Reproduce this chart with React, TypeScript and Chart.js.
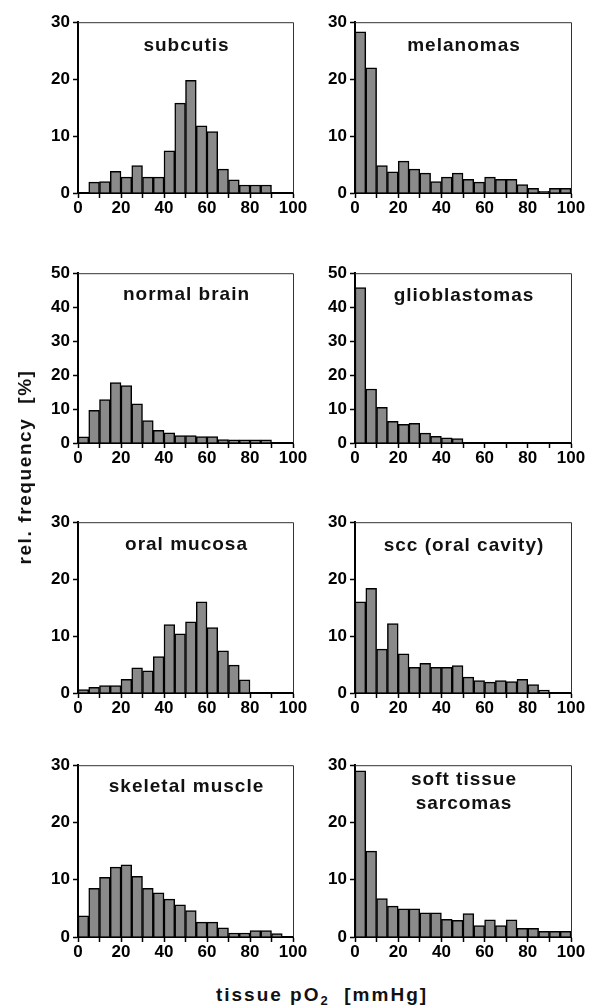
import React, { useEffect, useRef } from 'react';
import { Chart, registerables } from 'chart.js';

Chart.register(...registerables);

// ---------- data ----------
const BIN_CENTERS = [2.5, 7.5, 12.5, 17.5, 22.5, 27.5, 32.5, 37.5, 42.5, 47.5, 52.5, 57.5, 62.5, 67.5, 72.5, 77.5, 82.5, 87.5, 92.5, 97.5];
const X_TICK_LABELS = [0, 20, 40, 60, 80, 100];

const SUBCUTIS = [0, 1.9, 2.0, 3.8, 2.8, 4.8, 2.8, 2.8, 7.4, 15.8, 19.8, 11.8, 10.8, 4.2, 2.3, 1.4, 1.4, 1.4, 0, 0];
const MELANOMAS = [28.3, 22.0, 4.8, 3.7, 5.6, 4.2, 3.5, 2.0, 2.8, 3.5, 2.4, 1.9, 2.8, 2.4, 2.4, 1.5, 0.8, 0.3, 0.8, 0.8];
const NORMAL_BRAIN = [1.8, 9.6, 12.8, 17.8, 16.9, 11.5, 6.6, 3.7, 3.0, 2.2, 2.2, 1.9, 1.9, 1.0, 0.9, 0.9, 0.9, 0.9, 0, 0];
const GLIOBLASTOMAS = [45.8, 15.9, 10.5, 6.4, 5.5, 5.8, 2.9, 2.0, 1.5, 1.3, 0, 0, 0, 0, 0, 0, 0, 0, 0, 0];
const ORAL_MUCOSA = [0.6, 1.0, 1.3, 1.3, 2.4, 4.4, 3.9, 6.4, 12.0, 10.4, 12.5, 16.0, 11.5, 7.4, 4.9, 2.3, 0, 0, 0, 0];
const SCC_ORAL = [16.0, 18.4, 7.7, 12.2, 6.9, 4.5, 5.2, 4.5, 4.5, 4.8, 2.8, 2.2, 1.9, 2.2, 2.0, 2.4, 1.5, 0.5, 0, 0];
const SKELETAL_MUSCLE = [3.7, 8.5, 10.4, 12.2, 12.6, 10.6, 8.5, 7.7, 6.6, 5.6, 4.6, 2.6, 2.6, 1.6, 0.7, 0.7, 1.1, 1.1, 0.6, 0];
const SOFT_TISSUE = [29.0, 15.0, 6.7, 5.4, 4.9, 4.9, 4.2, 4.2, 3.1, 2.9, 4.1, 2.0, 3.0, 2.0, 3.0, 1.5, 1.5, 1.0, 1.0, 1.0];

const PANEL_TITLES = [
  ['subcutis'], ['melanomas'],
  ['normal brain'], ['glioblastomas'],
  ['oral mucosa'], ['scc (oral cavity)'],
  ['skeletal muscle'], ['soft tissue', 'sarcomas'],
];
const PANEL_VALUES = [SUBCUTIS, MELANOMAS, NORMAL_BRAIN, GLIOBLASTOMAS, ORAL_MUCOSA, SCC_ORAL, SKELETAL_MUSCLE, SOFT_TISSUE];
const PANEL_YMAX = [30, 30, 50, 50, 30, 30, 30, 30];

const Y_TITLE = 'rel. frequency  [%]';
const X_TITLE_MAIN = 'tissue pO';
const X_TITLE_SUB = '2';
const X_TITLE_UNIT = '[mmHg]';

// ---------- layout / style ----------
const FONT = '"Liberation Sans", Arial, Helvetica, sans-serif';
const BAR_FILL = '#8a8a8a';
const COLS = [{ x: 78, w: 215 }, { x: 355, w: 216 }];
const ROWS = [{ y: 21, h: 172 }, { y: 272, h: 171 }, { y: 521, h: 172 }, { y: 764, h: 173 }];
const TITLE_OFFSETS = [24, 24, 22, 23, 23, 24, 22, 15];
const AXIS_W = 50;
const AXIS_H = 30;
const PAD_T = 12;
const PAD_R = 18;

const frameAndTitle = {
  id: 'frameAndTitle',
  afterDatasetsDraw(chart: any, _args: any, opts: any) {
    const { ctx, chartArea: a } = chart;
    ctx.save();
    ctx.strokeStyle = '#333';
    ctx.lineWidth = 1;
    ctx.beginPath();
    ctx.moveTo(a.left, a.top + 0.5);
    ctx.lineTo(a.right + 0.5, a.top + 0.5);
    ctx.lineTo(a.right + 0.5, a.bottom);
    ctx.stroke();
    ctx.fillStyle = '#111';
    ctx.font = `bold 19px ${FONT}`;
    try { (ctx as any).letterSpacing = '1px'; } catch (e) {}
    ctx.textAlign = 'center';
    ctx.textBaseline = 'middle';
    (opts.lines || []).forEach((line: string, i: number) => {
      ctx.fillText(line, (a.left + a.right) / 2 + 1, a.top + opts.offset + i * 24);
    });
    ctx.restore();
  },
};

function Panel({ idx }: { idx: number }) {
  const ref = useRef<HTMLCanvasElement | null>(null);
  const col = COLS[idx % 2];
  const row = ROWS[Math.floor(idx / 2)];
  const left = col.x - AXIS_W;
  const top = row.y - PAD_T;
  const width = col.w + AXIS_W + PAD_R;
  const height = row.h + PAD_T + AXIS_H;

  useEffect(() => {
    const values = PANEL_VALUES[idx];
    const tickFont = { family: FONT, size: 17, weight: 'bold' as const };
    const chart = new Chart(ref.current as HTMLCanvasElement, {
      type: 'bar',
      data: {
        datasets: [
          {
            data: BIN_CENTERS.map((x, i) => ({ x, y: values[i] === 0 ? null : values[i] })) as any,
            backgroundColor: BAR_FILL,
            borderColor: '#000',
            borderWidth: 1.5,
            barPercentage: 1,
            categoryPercentage: 1,
          },
        ],
      },
      options: {
        animation: false,
        responsive: false,
        maintainAspectRatio: false,
        layout: { padding: { top: PAD_T, right: PAD_R, left: 0, bottom: 0 } },
        plugins: {
          legend: { display: false },
          tooltip: { enabled: false },
          frameAndTitle: { lines: PANEL_TITLES[idx], offset: TITLE_OFFSETS[idx] },
        } as any,
        scales: {
          x: {
            type: 'linear',
            min: 0,
            max: 100,
            offset: false,
            ticks: {
              stepSize: 10,
              autoSkip: false,
              maxRotation: 0,
              minRotation: 0,
              padding: 0,
              color: '#000',
              font: tickFont,
              callback: (v: any) => (X_TICK_LABELS.includes(Number(v)) ? String(v) : ''),
            },
            grid: { drawOnChartArea: false, offset: false, tickLength: 5, tickColor: '#000', tickWidth: 1.5 },
            border: { color: '#000', width: 2 },
            afterFit: (s: any) => { s.height = AXIS_H; },
          },
          y: {
            min: 0,
            max: PANEL_YMAX[idx],
            ticks: { stepSize: 10, padding: 3, color: '#000', font: tickFont },
            grid: { drawOnChartArea: false, tickLength: 5, tickColor: '#000', tickWidth: 1.5 },
            border: { color: '#000', width: 2 },
            afterFit: (s: any) => { s.width = AXIS_W; },
          },
        } as any,
      },
      plugins: [frameAndTitle],
    });
    return () => chart.destroy();
  }, [idx]);

  return (
    <canvas
      ref={ref}
      width={width}
      height={height}
      style={{ position: 'absolute', left, top, width, height }}
    />
  );
}

export default function App() {
  return (
    <div style={{ position: 'absolute', left: 0, top: 0, width: 599, height: 1008, background: '#fff', overflow: 'hidden' }}>
      {PANEL_VALUES.map((_, i) => (
        <Panel key={i} idx={i} />
      ))}
      <div
        style={{
          position: 'absolute',
          left: 25 - 130,
          top: 467 - 12,
          width: 260,
          height: 24,
          lineHeight: '24px',
          textAlign: 'center',
          transform: 'rotate(-90deg)',
          transformOrigin: '50% 50%',
          fontFamily: FONT,
          fontWeight: 'bold',
          fontSize: 19,
          letterSpacing: '1.6px',
          whiteSpace: 'pre',
          color: '#111',
        }}
      >
        {Y_TITLE}
      </div>
      <div
        style={{
          position: 'absolute',
          left: 322 - 150,
          top: 983,
          width: 300,
          height: 24,
          lineHeight: '24px',
          textAlign: 'center',
          fontFamily: FONT,
          fontWeight: 'bold',
          fontSize: 19,
          letterSpacing: '2px',
          whiteSpace: 'pre',
          color: '#111',
        }}
      >
        {X_TITLE_MAIN}
        <sub style={{ fontSize: 13, verticalAlign: '-4px', lineHeight: 0 }}>{X_TITLE_SUB}</sub>
        {'  ' + X_TITLE_UNIT}
      </div>
    </div>
  );
}
